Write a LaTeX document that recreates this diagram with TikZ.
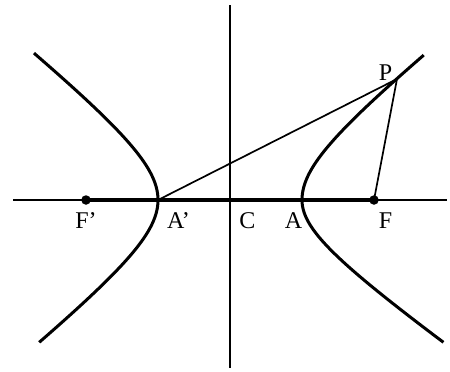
\documentclass[tikz,border=0pt]{standalone}
\usepackage{fontspec}
\setmainfont{Liberation Serif}
\begin{document}
\begin{tikzpicture}[x=1pt,y=-1pt,
  axis/.style={line width=2pt},
  curve/.style={line width=3pt, line join=round, samples=60},
  seg/.style={line width=1.7pt},
  lbl/.style={anchor=base, inner sep=0pt, font=\fontsize{24}{24}\selectfont},
  dot/.style={circle, fill=black, inner sep=0pt, minimum size=9.5pt}]
\useasboundingbox (0,0) rectangle (450,372);
% axes
\coordinate (xl) at (13,200);
\coordinate (xr) at (447,200);
\coordinate (yt) at (230,5);
\coordinate (yb) at (230,368);
\coordinate (C) at (230,200);
\coordinate (Ap) at (158,200);
\coordinate (A) at (302,200);
\coordinate (P) at (397,79);
\node[dot] (Fp) at (86,200) {};
\node[dot] (F) at (374,200) {};
\draw[axis] (xl) -- (xr);
\draw[axis] (yt) -- (yb);
\draw[line width=3.5pt] (Fp.center) -- (F.center);
% hyperbola branches
\draw[curve] plot[domain=-1.75:0] ({230+72*cosh(\x)},{200-51*sinh(\x)})
  -- plot[domain=0:1.647] ({230+72*cosh(\x)},{200-58*sinh(\x)});
\draw[curve] plot[domain=-1.63:0] ({230-72*cosh(\x)},{200-58*sinh(\x)})
  -- plot[domain=0:1.66] ({230-72*cosh(\x)},{200-58*sinh(\x)});
% lines
\draw[seg] (Ap) -- (P) -- (F.center);
% labels
\node[lbl] (lP) at (385.5,80) {P};
\node[lbl] (lFp) at (86,228) {F’};
\node[lbl] (lAp) at (178.5,228) {A’};
\node[lbl] (lC) at (247.5,228) {C};
\node[lbl] (lA) at (293.5,228) {A};
\node[lbl] (lF) at (385.5,228) {F};
\end{tikzpicture}
\end{document}
